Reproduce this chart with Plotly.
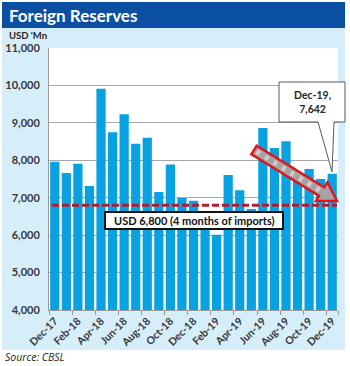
import plotly.graph_objects as go
import math

# ---------------- data ----------------
months = ["Dec-17", "Jan-18", "Feb-18", "Mar-18", "Apr-18", "May-18", "Jun-18",
          "Jul-18", "Aug-18", "Sep-18", "Oct-18", "Nov-18", "Dec-18", "Jan-19",
          "Feb-19", "Mar-19", "Apr-19", "May-19", "Jun-19", "Jul-19", "Aug-19",
          "Sep-19", "Oct-19", "Nov-19", "Dec-19"]
reserves = [7960, 7660, 7910, 7310, 9910, 8750, 9230, 8440, 8600, 7150, 7890,
            6990, 6920, 6140, 6010, 7610, 7200, 6700, 8860, 8330, 8510, 7500,
            7770, 7500, 7642]
tick_labels = months[::2]
threshold = 6800
threshold_label = "USD 6,800 (4 months of imports)"
callout_label = "Dec-19,<br>7,642"
title_text = "Foreign Reserves"
unit_text = "USD 'Mn"
source_text = "Source: CBSL"

# ---------------- layout helpers (pixel -> paper) ----------------
L, R, T, B = 49, 338, 48, 310
W, H = 350, 366


def px(x):
    return (x - L) / (R - L)


def py(y):
    return (B - y) / (B - T)


def path(points):
    return "M " + " L ".join(f"{px(x):.5f},{py(y):.5f}" for x, y in points) + " Z"


LABEL_FONT = dict(family="Lato, Open Sans, sans-serif", size=11, color="#383838", weight="bold")
XLABEL_FONT = dict(family="Lato, Open Sans, sans-serif", size=10.5, color="#383838", weight="bold")

fig = go.Figure()
fig.add_trace(go.Bar(
    x=months, y=reserves,
    marker=dict(color="#08a2e3", line=dict(width=0)),
    hoverinfo="x+y",
))

shapes = []
# light blue panel
shapes.append(dict(type="rect", xref="paper", yref="paper", layer="below",
                   x0=px(2), x1=px(345), y0=py(350), y1=py(28),
                   fillcolor="#d6edfa", line=dict(width=0)))
# white plot area
shapes.append(dict(type="rect", xref="paper", yref="paper", layer="below",
                   x0=0, x1=1, y0=0, y1=1, fillcolor="white", line=dict(width=0)))
# title band
shapes.append(dict(type="rect", xref="paper", yref="paper", layer="below",
                   x0=px(2), x1=px(345), y0=py(28), y1=py(2),
                   fillcolor="#0b4fa3", line=dict(width=0)))

# threshold dashed line
shapes.append(dict(type="line", xref="paper", yref="y", x0=px(52), x1=px(337),
                   y0=threshold, y1=threshold,
                   line=dict(color="#b01e2d", width=3, dash="7px,3px")))

# threshold label box
shapes.append(dict(type="rect", xref="paper", yref="paper",
                   x0=px(105), x1=px(283), y0=py(229), y1=py(212),
                   fillcolor="white", line=dict(color="#111111", width=2)))

# trend arrow
S = (254, 150)
Tp = (337, 201)
dx, dy = Tp[0] - S[0], Tp[1] - S[1]
ln = math.hypot(dx, dy)
u = (dx / ln, dy / ln)
n = (-u[1], u[0])
head_len, body_w, head_w = 18, 5, 11
Hb = (Tp[0] - head_len * u[0], Tp[1] - head_len * u[1])


def off(p, k):
    return (p[0] + k * n[0], p[1] + k * n[1])


arrow_pts = [off(S, body_w), off(Hb, body_w), off(Hb, head_w), Tp,
             off(Hb, -head_w), off(Hb, -body_w), off(S, -body_w)]
shapes.append(dict(type="path", xref="paper", yref="paper", path=path(arrow_pts),
                   fillcolor="#a3a3a3", line=dict(width=0)))
s2 = (S[0] + 3 * u[0], S[1] + 3 * u[1])
shapes.append(dict(type="line", xref="paper", yref="paper",
                   x0=px(s2[0]), y0=py(s2[1]), x1=px(Hb[0] + 4 * u[0]), y1=py(Hb[1] + 4 * u[1]),
                   line=dict(color="#d4c9c9", width=5, dash="4px,6px")))
shapes.append(dict(type="path", xref="paper", yref="paper", path=path(arrow_pts),
                   fillcolor="rgba(0,0,0,0)", line=dict(color="#e3141c", width=2.5)))

# callout box for Dec-19
callout_pts = [(279, 82), (345, 82), (345, 122), (334, 122), (332, 172),
               (318, 122), (279, 122)]
shapes.append(dict(type="path", xref="paper", yref="paper", path=path(callout_pts),
                   fillcolor="white", line=dict(color="#5a5a5a", width=1)))

annotations = [
    dict(text=title_text, xref="paper", yref="paper", x=px(7), y=py(15.5),
         xanchor="left", yanchor="middle", showarrow=False,
         font=dict(family="Lato, Roboto, sans-serif", size=17, color="white", weight="bold")),
    dict(text=unit_text, xref="paper", yref="paper", x=px(7), y=py(36),
         xanchor="left", yanchor="middle", showarrow=False,
         font=dict(family="Lato, Open Sans, sans-serif", size=9.5, color="#262626", weight="bold")),
    dict(text=source_text, xref="paper", yref="paper", x=px(3), y=py(357),
         xanchor="left", yanchor="middle", showarrow=False,
         font=dict(family="Open Sans, sans-serif", size=10.5, color="#262626", style="italic")),
    dict(text=threshold_label, xref="paper", yref="paper", x=px(194), y=py(220.5),
         xanchor="center", yanchor="middle", showarrow=False,
         font=dict(family="Lato, Open Sans, sans-serif", size=11, color="#111111", weight="bold")),
    dict(text=callout_label, xref="paper", yref="paper", x=px(312), y=py(102),
         xanchor="center", yanchor="middle", showarrow=False,
         font=dict(family="Lato, Open Sans, sans-serif", size=10.5, color="#262626", weight="bold")),
]

fig.update_layout(
    width=W, height=H,
    margin=dict(l=L, r=W - R, t=T, b=H - B, autoexpand=False),
    paper_bgcolor="white", plot_bgcolor="white",
    bargap=0.2, showlegend=False,
    shapes=shapes, annotations=annotations,
    xaxis=dict(type="category", tickvals=tick_labels, ticktext=tick_labels,
               tickangle=-45, tickfont=XLABEL_FONT, showgrid=False,
               showline=True, linecolor="#9a9a9a", linewidth=1,
               ticks="outside", tickson="boundaries", ticklen=4, tickcolor="#9a9a9a",
               automargin=False),
    yaxis=dict(range=[4000, 11000], dtick=1000, tickformat=",", tickfont=LABEL_FONT,
               showgrid=True, gridcolor="#a8a8a8", gridwidth=1,
               showline=True, linecolor="#9a9a9a", linewidth=1,
               ticks="", ticklabelstandoff=6, zeroline=False, automargin=False),
)

fig.write_html("out.html")
